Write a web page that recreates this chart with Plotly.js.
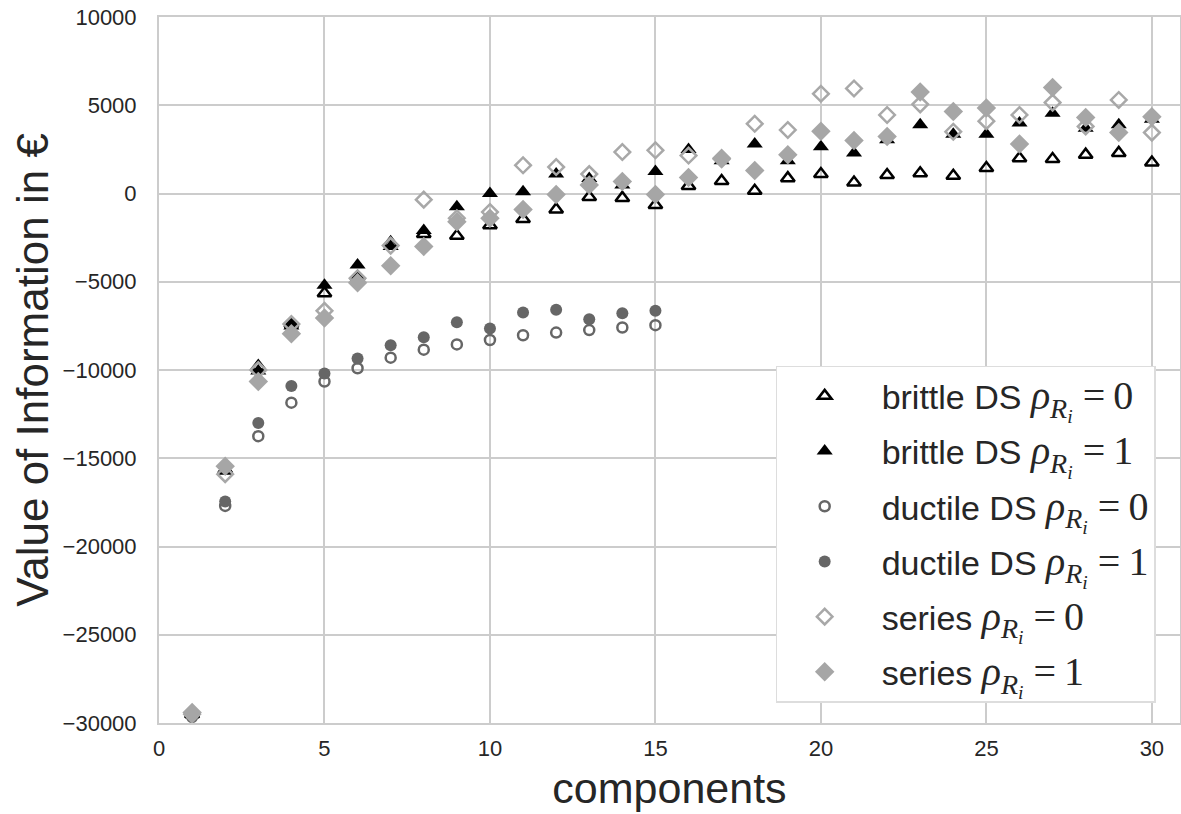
<!DOCTYPE html>
<html>
<head>
<meta charset="utf-8">
<script src="https://cdn.plot.ly/plotly-3.0.1.min.js"></script>
<style>html,body{margin:0;padding:0;background:#fff;}#chart{width:1181px;height:814px;}</style>
</head>
<body>
<div id="chart"></div>
<script>
const components = [1,2,3,4,5,6,7,8,9,10,11,12,13,14,15,16,17,18,19,20,21,22,23,24,25,26,27,28,29,30];
const componentsDuctile = [1,2,3,4,5,6,7,8,9,10,11,12,13,14,15];

const brittle0 = [-29500,-15700,-9800,-7400,-5650,-4750,-2800,-2300,-2400,-1800,-1450,-900,-200,-250,-650,430,710,160,870,1100,620,1050,1150,1000,1440,2000,1950,2200,2300,1750];
const brittle1 = [-29500,-15600,-10050,-7500,-5200,-4050,-3000,-2100,-750,0,100,1100,850,480,1250,2500,1850,2800,1850,2650,2300,3050,3900,3350,3350,4000,4550,3700,3900,4200];
const ductile0 = [-29650,-17700,-13750,-11850,-10650,-9900,-9300,-8850,-8550,-8300,-8030,-7880,-7740,-7590,-7460];
const ductile1 = [-29550,-17450,-13000,-10900,-10200,-9350,-8600,-8150,-7300,-7650,-6740,-6590,-7120,-6780,-6640];
const series0 = [-29500,-15900,-10000,-7400,-6650,-4800,-2950,-350,-1400,-1050,1600,1500,1100,2350,2450,2150,1950,3950,3600,5650,5950,4450,5050,3500,4100,4450,5150,3800,5300,3450];
const series1 = [-29400,-15450,-10650,-7950,-7050,-5050,-4100,-3000,-1600,-1400,-900,-50,480,680,-50,900,2000,1300,2200,3520,3000,3230,5750,4650,4850,2800,6000,4300,3450,4350];

const xTickVals = [0,5,10,15,20,25,30];
const xTickText = ['0','5','10','15','20','25','30'];
const yTickVals = [-30000,-25000,-20000,-15000,-10000,-5000,0,5000,10000];
const yTickText = ['\u221230000','\u221225000','\u221220000','\u221215000','\u221210000','\u22125000','0','5000','10000'];

function rho(v){
  return "<span style=\"font-family:'Liberation Serif';font-size:40px\"><i>ρ</i><sub><i>R</i><sub><i>i</i></sub></sub> =\u2009" + v + "</span>";
}

const traces = [
  {x: components, y: brittle0, name: '&nbsp;brittle DS ' + rho(0), legendgroup:'a', type:'scatter', mode:'markers',
   marker:{symbol:'triangle-up-open', size:12, color:'#000000', line:{width:2.5, color:'#000000'}}},
  {x: components, y: brittle1, name: '&nbsp;brittle DS ' + rho(1), legendgroup:'b', type:'scatter', mode:'markers',
   marker:{symbol:'triangle-up', size:14, color:'#000000', line:{width:0}}},
  {x: componentsDuctile, y: ductile0, name: '&nbsp;ductile DS ' + rho(0), legendgroup:'c', type:'scatter', mode:'markers',
   marker:{symbol:'circle-open', size:10, color:'#666666', line:{width:2.5, color:'#666666'}}},
  {x: componentsDuctile, y: ductile1, name: '&nbsp;ductile DS ' + rho(1), legendgroup:'d', type:'scatter', mode:'markers',
   marker:{symbol:'circle', size:12, color:'#666666', line:{width:0}}},
  {x: components, y: series0, name: '&nbsp;series ' + rho(0), legendgroup:'e', type:'scatter', mode:'markers',
   marker:{symbol:'diamond-open', size:12, color:'#a8a8a8', line:{width:2.5, color:'#a8a8a8'}}},
  {x: components, y: series1, name: '&nbsp;series ' + rho(1), legendgroup:'f', type:'scatter', mode:'markers',
   marker:{symbol:'diamond', size:15, color:'#a6a6a6', line:{width:0}}}
];

const layout = {
  width: 1181, height: 814,
  margin: {l:159, r:1, t:17, b:91, pad:0},
  paper_bgcolor:'#ffffff', plot_bgcolor:'#ffffff',
  font: {family:'"Liberation Sans", Arial, sans-serif', color:'#262626', size:22},
  showlegend: true,
  legend: {
    x: 0.604, y: 0.506, xanchor:'left', yanchor:'top',
    bgcolor:'#ffffff', bordercolor:'#dddddd', borderwidth:1.5,
    font:{size:34, color:'#262626'},
    itemwidth: 85, tracegroupgap: 8, traceorder:'grouped'
  },
  xaxis: {
    range:[0, 30.85], tickvals: xTickVals, ticktext: xTickText, ticks:'', showgrid:true, gridcolor:'#cccccc', gridwidth:2,
    zeroline:false, showline:true, linecolor:'#cccccc', linewidth:2, mirror:true,
    tickfont:{size:22, color:'#262626'}, ticklabelstandoff: 5,
    title:{text:'components', font:{size:43, color:'#262626'}, standoff: 12}
  },
  yaxis: {
    range:[-30000, 10000], tickvals: yTickVals, ticktext: yTickText, ticks:'', showgrid:true, gridcolor:'#cccccc', gridwidth:2,
    zeroline:false, showline:true, linecolor:'#cccccc', linewidth:2, mirror:true,
    tickfont:{size:22, color:'#262626'}, ticklabelstandoff: 16,
    title:{text:'Value of Information in €', font:{size:44, color:'#262626'}, standoff: 0}
  }
};

Plotly.newPlot('chart', traces, layout, {displayModeBar:false, staticPlot:true});
</script>
</body>
</html>
